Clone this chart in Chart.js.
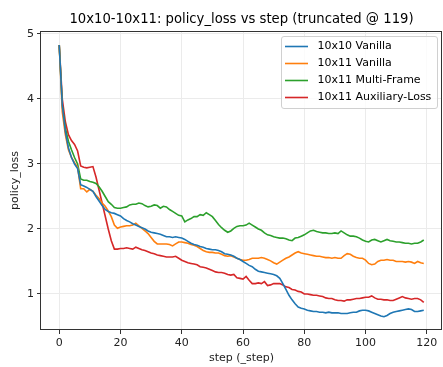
<!DOCTYPE html>
<html>
<head>
<meta charset="utf-8">
<script src="https://cdn.jsdelivr.net/npm/chart.js@4/dist/chart.umd.min.js"></script>
<style>
  html, body { margin: 0; padding: 0; background: #fff; }
  #wrap { width: 443px; height: 367px; }
</style>
</head>
<body>
<div id="wrap"><canvas id="lossChart" width="443" height="367"></canvas></div>
<script>
// step index 0..119 (truncated @ 119)
const steps = Array.from({ length: 120 }, (_, i) => i);

const vanilla10x10 = [
  4.83, 3.90, 3.50, 3.25, 3.10, 3.00, 2.93, 2.68, 2.66, 2.64,
  2.61, 2.58, 2.50, 2.43, 2.36, 2.30, 2.27, 2.25, 2.24, 2.22,
  2.20, 2.16, 2.13, 2.11, 2.08, 2.06, 2.04, 2.02, 2.00, 1.97,
  1.95, 1.94, 1.93, 1.92, 1.90, 1.88, 1.88, 1.87, 1.88, 1.87,
  1.86, 1.84, 1.81, 1.78, 1.76, 1.75, 1.73, 1.72, 1.70, 1.69,
  1.68, 1.68, 1.67, 1.65, 1.62, 1.61, 1.60, 1.58, 1.55, 1.53,
  1.50, 1.47, 1.44, 1.42, 1.38, 1.35, 1.34, 1.33, 1.32, 1.31,
  1.30, 1.28, 1.24, 1.16, 1.07, 0.98, 0.91, 0.85, 0.80, 0.78,
  0.77, 0.75, 0.74, 0.73, 0.73, 0.72, 0.72, 0.71, 0.72, 0.71,
  0.71, 0.71, 0.70, 0.70, 0.70, 0.71, 0.72, 0.72, 0.74, 0.75,
  0.75, 0.74, 0.72, 0.70, 0.68, 0.66, 0.65, 0.67, 0.70, 0.72,
  0.73, 0.74, 0.75, 0.76, 0.77, 0.76, 0.73, 0.73, 0.74, 0.75
];

const vanilla10x11 = [
  4.83, 3.80, 3.45, 3.22, 3.10, 3.02, 2.95, 2.62, 2.62, 2.57,
  2.61, 2.58, 2.52, 2.47, 2.40, 2.35, 2.28, 2.19, 2.06, 2.01,
  2.03, 2.04, 2.05, 2.05, 2.06, 2.09, 2.05, 2.01, 1.97, 1.93,
  1.87, 1.81, 1.77, 1.77, 1.77, 1.77, 1.76, 1.74, 1.77, 1.80,
  1.80, 1.79, 1.78, 1.76, 1.75, 1.73, 1.70, 1.67, 1.65, 1.64,
  1.64, 1.63, 1.63, 1.61, 1.59, 1.58, 1.59, 1.57, 1.55, 1.53,
  1.52, 1.52, 1.53, 1.55, 1.55, 1.55, 1.56, 1.55, 1.53, 1.51,
  1.48, 1.46, 1.49, 1.52, 1.55, 1.57, 1.60, 1.63, 1.65, 1.63,
  1.62, 1.61, 1.60, 1.59, 1.58, 1.58, 1.57, 1.56, 1.56, 1.55,
  1.56, 1.55, 1.55, 1.59, 1.62, 1.61, 1.58, 1.56, 1.55, 1.55,
  1.52, 1.47, 1.45, 1.46, 1.50, 1.52, 1.52, 1.53, 1.52, 1.52,
  1.50, 1.50, 1.50, 1.49, 1.50, 1.49, 1.47, 1.50, 1.48, 1.47
];

const multiFrame10x11 = [
  4.83, 3.90, 3.55, 3.35, 3.22, 3.10, 3.00, 2.77, 2.75, 2.75,
  2.73, 2.72, 2.70, 2.65, 2.58, 2.50, 2.42, 2.38, 2.33, 2.32,
  2.32, 2.33, 2.34, 2.37, 2.38, 2.38, 2.40, 2.39, 2.36, 2.34,
  2.35, 2.37, 2.36, 2.32, 2.35, 2.34, 2.30, 2.27, 2.24, 2.21,
  2.20, 2.11, 2.14, 2.16, 2.19, 2.19, 2.22, 2.21, 2.25, 2.22,
  2.19, 2.13, 2.07, 2.02, 1.98, 1.95, 1.97, 2.01, 2.04, 2.05,
  2.05, 2.06, 2.09, 2.06, 2.03, 2.00, 1.98, 1.94, 1.91, 1.90,
  1.88, 1.87, 1.86, 1.86, 1.85, 1.83, 1.82, 1.86, 1.87, 1.89,
  1.91, 1.94, 1.97, 1.98, 1.96, 1.95, 1.94, 1.94, 1.93, 1.93,
  1.94, 1.93, 1.97, 1.94, 1.91, 1.89, 1.89, 1.88, 1.86, 1.83,
  1.81, 1.80, 1.83, 1.84, 1.82, 1.80, 1.82, 1.84, 1.82, 1.81,
  1.80, 1.80, 1.79, 1.78, 1.78, 1.77, 1.78, 1.78, 1.80, 1.83
];

const auxLoss10x11 = [
  4.83, 4.00, 3.65, 3.45, 3.36, 3.30, 3.20, 2.97, 2.95, 2.94,
  2.95, 2.96, 2.80, 2.60, 2.40, 2.20, 2.00, 1.82, 1.69, 1.69,
  1.70, 1.70, 1.71, 1.70, 1.69, 1.72, 1.70, 1.68, 1.67, 1.65,
  1.63, 1.62, 1.60, 1.59, 1.58, 1.57, 1.57, 1.57, 1.58, 1.55,
  1.52, 1.50, 1.48, 1.47, 1.46, 1.45, 1.42, 1.41, 1.40, 1.38,
  1.36, 1.34, 1.33, 1.33, 1.32, 1.30, 1.29, 1.30, 1.25, 1.24,
  1.23, 1.27, 1.21, 1.16, 1.16, 1.17, 1.16, 1.19, 1.13, 1.14,
  1.16, 1.16, 1.16, 1.14, 1.11, 1.10, 1.07, 1.06, 1.04, 1.03,
  1.00, 1.00, 0.99, 0.98, 0.98, 0.97, 0.96, 0.94, 0.93, 0.93,
  0.91, 0.90, 0.90, 0.89, 0.91, 0.91, 0.92, 0.93, 0.93, 0.94,
  0.95, 0.95, 0.97, 0.94, 0.92, 0.92, 0.91, 0.91, 0.90, 0.90,
  0.92, 0.94, 0.96, 0.94, 0.93, 0.92, 0.93, 0.93, 0.91, 0.87
];

const seriesNames = ['10x10 Vanilla', '10x11 Vanilla', '10x11 Multi-Frame', '10x11 Auxiliary-Loss'];
const seriesColors = ['#1f77b4', '#ff7f0e', '#2ca02c', '#d62728'];
const xTicks = [0, 20, 40, 60, 80, 100, 120];
const yTicks = [1, 2, 3, 4, 5];

const titleText = '10x10-10x11: policy_loss vs step (truncated @ 119)';
const FONT = '"DejaVu Sans", Verdana, sans-serif';

function toPoints(values) {
    return values.map((v, i) => ({ x: steps[i], y: v }));
}

const allSeries = [vanilla10x10, vanilla10x11, multiFrame10x11, auxLoss10x11];

// title over the plot area (centred on axes, like matplotlib)
const axesTitle = {
    id: 'axesTitle',
    afterDraw(chart) {
        const { ctx, chartArea } = chart;
        ctx.save();
        ctx.fillStyle = '#000';
        ctx.font = '13.2px ' + FONT;
        ctx.textAlign = 'center';
        ctx.textBaseline = 'middle';
        ctx.fillText(titleText, (chartArea.left + chartArea.right) / 2, 20);
        ctx.restore();
    }
};

// four spines round the axes
const frame = {
    id: 'frame',
    afterDraw(chart) {
        const { ctx, chartArea: a } = chart;
        ctx.save();
        ctx.strokeStyle = '#333';
        ctx.lineWidth = 1;
        ctx.strokeRect(Math.round(a.left) - 0.5, Math.round(a.top) + 0.5,
            Math.round(a.right - a.left), Math.round(a.bottom - a.top) - 1);
        ctx.restore();
    }
};

// boxed legend, upper right
const boxLegend = {
    id: 'boxLegend',
    afterDraw(chart) {
        const { ctx, chartArea } = chart;
        const sets = chart.data.datasets;
        const boxW = 156, rowH = 17, boxH = 72;
        const x0 = chartArea.right - 4.5 - boxW;
        const y0 = chartArea.top + 5.5;
        ctx.save();
        ctx.fillStyle = 'rgba(255,255,255,0.8)';
        ctx.strokeStyle = '#d0d0d0';
        ctx.lineWidth = 1;
        ctx.beginPath();
        ctx.roundRect(x0, y0, boxW, boxH, 2.5);
        ctx.fill();
        ctx.stroke();
        ctx.font = '11px ' + FONT;
        ctx.textBaseline = 'middle';
        ctx.textAlign = 'left';
        sets.forEach((ds, i) => {
            const cy = y0 + 10 + i * rowH;
            ctx.strokeStyle = ds.borderColor;
            ctx.lineWidth = 1.6;
            ctx.beginPath();
            ctx.moveTo(x0 + 3.5, cy);
            ctx.lineTo(x0 + 26.5, cy);
            ctx.stroke();
            ctx.fillStyle = '#000';
            ctx.fillText(ds.label, x0 + 36, cy);
        });
        ctx.restore();
    }
};

const ctx = document.getElementById('lossChart').getContext('2d');
const chart = new Chart(ctx, {
    type: 'line',
    data: {
        datasets: allSeries.map((vals, i) => ({
            label: seriesNames[i],
            data: toPoints(vals),
            borderColor: seriesColors[i],
            backgroundColor: seriesColors[i],
            borderWidth: 1.6,
            pointRadius: 0,
            tension: 0,
            fill: false
        }))
    },
    options: {
        responsive: false,
        animation: false,
        devicePixelRatio: 1,
        layout: { padding: { top: 31, right: 1, left: 0, bottom: 0 } },
        plugins: {
            legend: { display: false },
            title: { display: false },
            tooltip: { enabled: false }
        },
        scales: {
            x: {
                type: 'linear',
                min: -5.95,
                max: 124.95,
                afterBuildTicks: (scale) => { scale.ticks = xTicks.map(v => ({ value: v })); },
                afterFit: (scale) => { scale.height = 37; },
                grid: { color: '#ebebeb', lineWidth: 1, tickLength: 4, tickColor: '#333' },
                border: { display: false },
                ticks: {
                    color: '#222', padding: 3, maxRotation: 0,
                    font: { family: FONT, size: 11 },
                    callback: (v) => String(v)
                },
                title: {
                    display: true, text: 'step (_step)', color: '#222',
                    font: { family: FONT, size: 11 },
                    padding: { top: 0, bottom: 2 }
                }
            },
            y: {
                type: 'linear',
                min: 0.446,
                max: 5.046,
                afterBuildTicks: (scale) => { scale.ticks = yTicks.map(v => ({ value: v })); },
                afterFit: (scale) => { scale.width = 41; },
                grid: { color: '#ebebeb', lineWidth: 1, tickLength: 4, tickColor: '#333' },
                border: { display: false },
                ticks: {
                    color: '#222', padding: 3,
                    font: { family: FONT, size: 11 },
                    callback: (v) => String(v)
                },
                title: {
                    display: true, text: 'policy_loss', color: '#222',
                    font: { family: FONT, size: 11 },
                    padding: { top: 9, bottom: 0 }
                }
            }
        }
    },
    plugins: [axesTitle, frame, boxLegend]
});
</script>
</body>
</html>
